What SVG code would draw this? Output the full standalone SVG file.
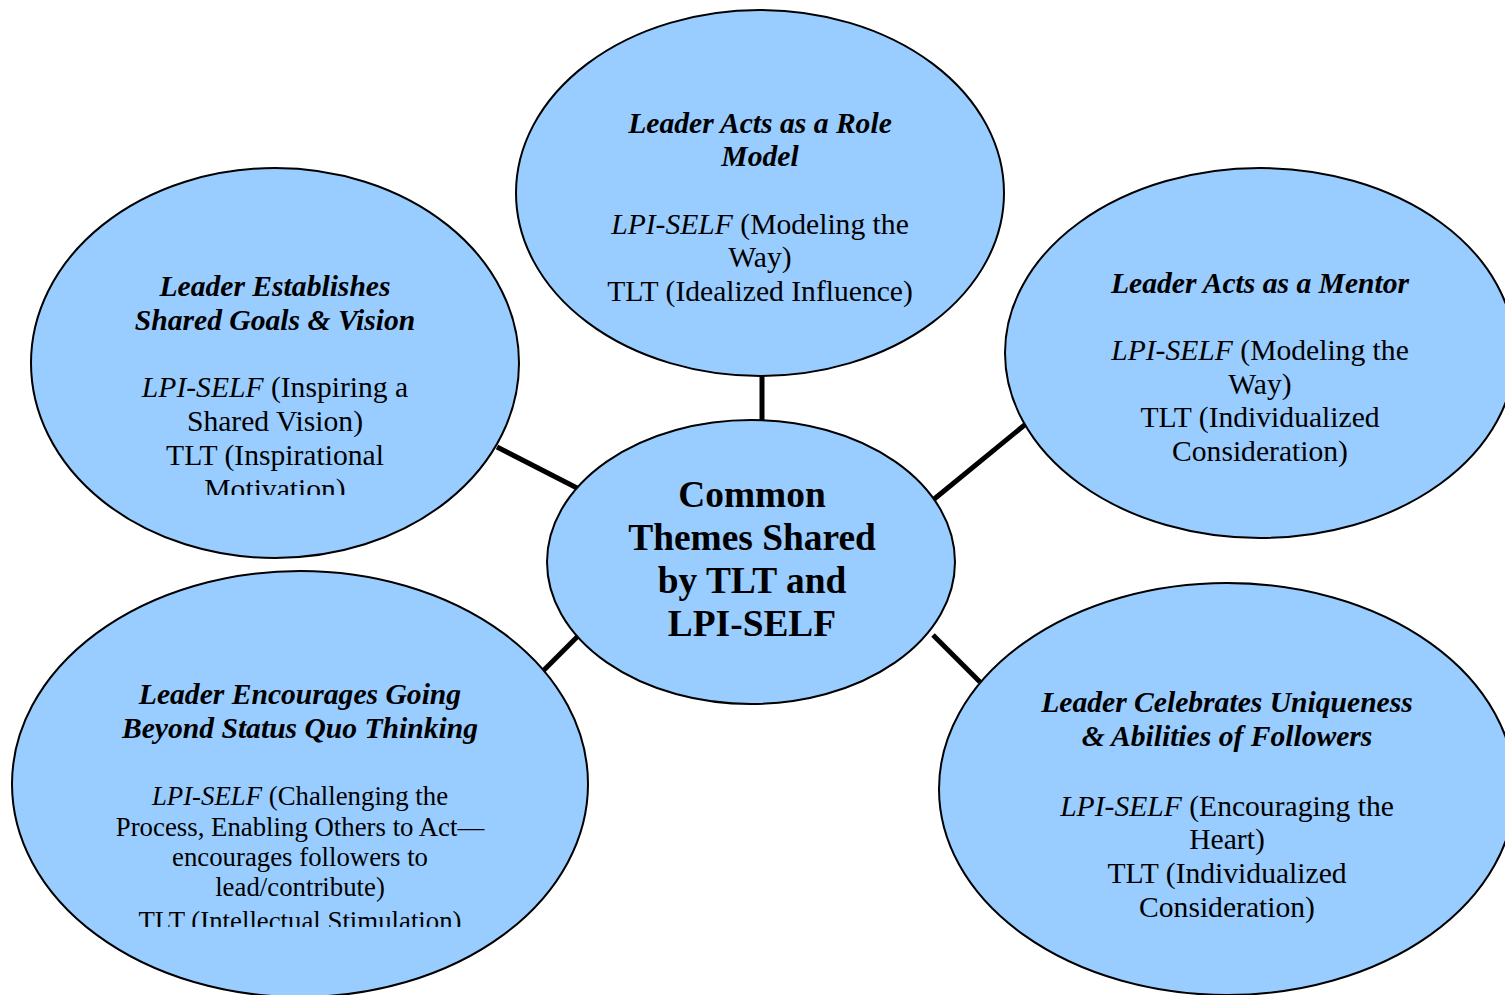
<svg xmlns="http://www.w3.org/2000/svg" width="1505" height="995" viewBox="0 0 1505 995">
<style>
.node{fill:#99ccff;stroke:#000;stroke-width:2}
.t{font-family:"Liberation Serif","Times New Roman",serif;font-size:29.6px;fill:#000;text-anchor:middle}
.h{font-weight:bold;font-style:italic}
.i{font-style:italic}
.s{font-size:26.8px}
.c{font-family:"Liberation Serif","Times New Roman",serif;font-size:37.4px;font-weight:bold;fill:#000;text-anchor:middle}
.conn{stroke:#000;stroke-width:5;fill:none}
</style>
<defs>
<clipPath id="clipLU"><rect x="0" y="0" width="1505" height="495"/></clipPath>
<clipPath id="clipBL"><rect x="0" y="0" width="1505" height="927"/></clipPath>
</defs>
<rect width="1505" height="995" fill="#fff"/>
<g id="connectors">
<line class="conn" x1="762" y1="376" x2="762" y2="421"/>
<line class="conn" x1="497" y1="447" x2="579" y2="489"/>
<line class="conn" x1="1027" y1="423" x2="933" y2="500"/>
<line class="conn" x1="579" y1="635" x2="541" y2="673"/>
<line class="conn" x1="933" y1="635" x2="980" y2="682"/>
</g>
<g id="node-top">
<ellipse class="node" cx="760" cy="193" rx="244" ry="183"/>
<text class="t h" x="760" y="133">Leader Acts as a Role</text>
<text class="t h" x="760" y="166">Model</text>
<text class="t" x="760" y="234"><tspan class="i">LPI-SELF</tspan> (Modeling the</text>
<text class="t" x="760" y="267">Way)</text>
<text class="t" x="760" y="301">TLT (Idealized Influence)</text>
</g>
<g id="node-left-upper">
<ellipse class="node" cx="275" cy="363" rx="244" ry="195"/>
<g clip-path="url(#clipLU)">
<text class="t h" x="275" y="296">Leader Establishes</text>
<text class="t h" x="275" y="330">Shared Goals &amp; Vision</text>
<text class="t" x="275" y="397"><tspan class="i">LPI-SELF</tspan> (Inspiring a</text>
<text class="t" x="275" y="431">Shared Vision)</text>
<text class="t" x="275" y="465">TLT (Inspirational</text>
<text class="t" x="275" y="499">Motivation)</text>
</g>
</g>
<g id="node-right-upper">
<ellipse class="node" cx="1260" cy="353" rx="255" ry="185"/>
<text class="t h" x="1260" y="293">Leader Acts as a Mentor</text>
<text class="t" x="1260" y="360"><tspan class="i">LPI-SELF</tspan> (Modeling the</text>
<text class="t" x="1260" y="394">Way)</text>
<text class="t" x="1260" y="427">TLT (Individualized</text>
<text class="t" x="1260" y="461">Consideration)</text>
</g>
<g id="node-bottom-left">
<ellipse class="node" cx="300" cy="784" rx="288" ry="213"/>
<g clip-path="url(#clipBL)">
<text class="t h" x="300" y="704">Leader Encourages Going</text>
<text class="t h" x="300" y="738">Beyond Status Quo Thinking</text>
<text class="t s" x="300" y="805"><tspan class="i">LPI-SELF</tspan> (Challenging the</text>
<text class="t s" x="300" y="836">Process, Enabling Others to Act—</text>
<text class="t s" x="300" y="866">encourages followers to</text>
<text class="t s" x="300" y="896">lead/contribute)</text>
<text class="t s" x="300" y="930">TLT (Intellectual Stimulation)</text>
</g>
</g>
<g id="node-bottom-right">
<ellipse class="node" cx="1227" cy="789" rx="288" ry="206"/>
<text class="t h" x="1227" y="712">Leader Celebrates Uniqueness</text>
<text class="t h" x="1227" y="746">&amp; Abilities of Followers</text>
<text class="t" x="1227" y="816"><tspan class="i">LPI-SELF</tspan> (Encouraging the</text>
<text class="t" x="1227" y="849">Heart)</text>
<text class="t" x="1227" y="883">TLT (Individualized</text>
<text class="t" x="1227" y="917">Consideration)</text>
</g>
<g id="node-center">
<ellipse class="node" cx="751" cy="562" rx="204" ry="142"/>
<text class="c" x="752" y="507">Common</text>
<text class="c" x="752" y="550">Themes Shared</text>
<text class="c" x="752" y="593">by TLT and</text>
<text class="c" x="752" y="636">LPI-SELF</text>
</g>
</svg>
